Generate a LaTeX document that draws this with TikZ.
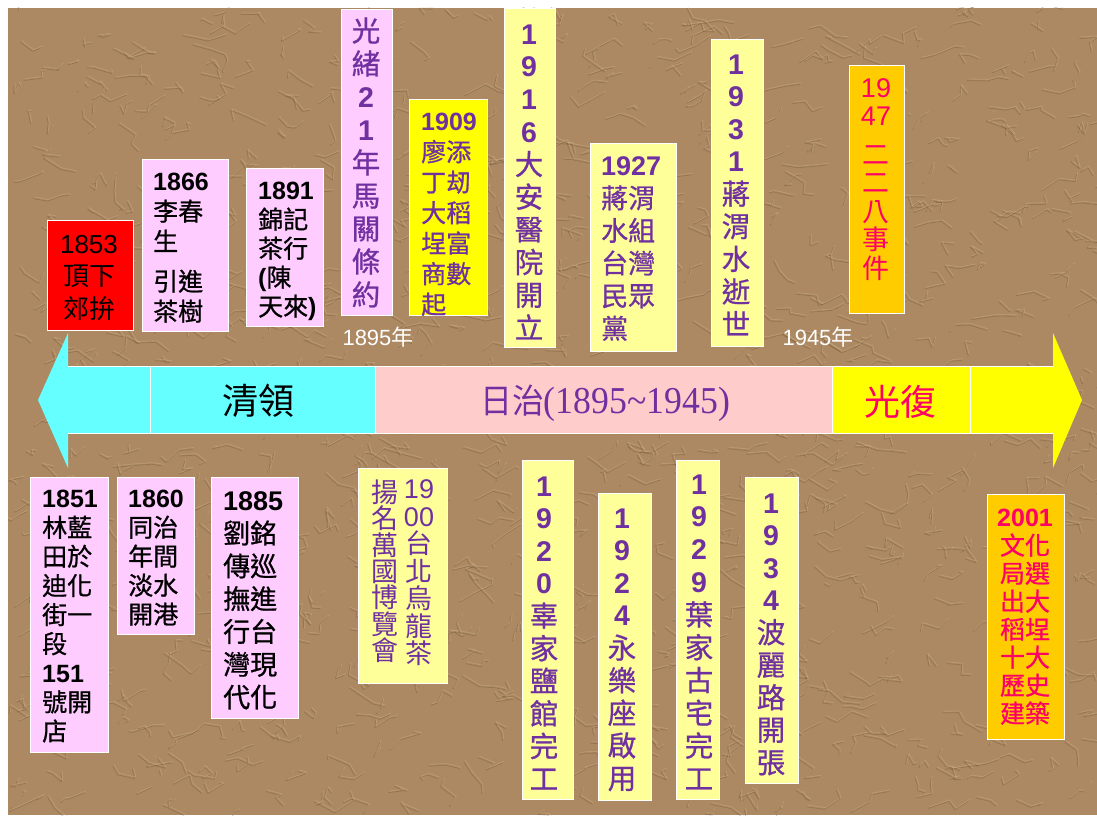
\documentclass[tikz,border=0pt]{standalone}
\usepackage{fontspec}
\setmainfont{Liberation Sans}
\newfontfamily\cjk{Noto Sans CJK TC}[FakeBold=0.8]
\newfontfamily\cjkplain{Noto Sans CJK TC}
\newfontfamily\arialfont{Liberation Sans}
\newfontfamily\seriffont{Liberation Serif}
\newcommand\dg[1]{{\arialfont\bfseries #1}}
\newcommand\dgr[1]{{\arialfont #1}}
\newcommand\firstht{\rule{0pt}{0.9em}}
\definecolor{bgtan}{RGB}{172,137,98}
\definecolor{crinkdark}{RGB}{100,74,48}
\definecolor{crinklight}{RGB}{225,196,155}
\definecolor{cyanband}{HTML}{66FFFF}
\definecolor{pinkband}{HTML}{FFCCCC}
\definecolor{yellowband}{HTML}{FFFF00}
\definecolor{pinkbox}{HTML}{FFCCFF}
\definecolor{lightyellow}{HTML}{FFFF99}
\definecolor{orangebox}{HTML}{FFCC00}
\definecolor{redbox}{HTML}{FF0000}
\definecolor{purpletext}{HTML}{7030A0}
\definecolor{magentatext}{HTML}{FF0066}
\tikzset{
  evbox/.style={draw=white, line width=0.8pt, inner sep=0pt, anchor=north west},
  txtc/.style={inner sep=0pt, anchor=north, align=center},
  txtl/.style={inner sep=0pt, anchor=north west, align=left},
  fs/.style 2 args={font=\cjk\fontsize{#1}{#2}\selectfont},
  bandlabel/.style={inner sep=0pt, anchor=center},
  yearlabel/.style={inner sep=0pt, anchor=center, text=white, font=\arialfont\fontsize{22}{24}\selectfont},
  crinkle/.style={line width=0.8pt, line join=round, line cap=round}
}
\begin{document}
\begin{tikzpicture}[x=1pt,y=-1pt]
\useasboundingbox (0,0) rectangle (1097,818);
\fill[bgtan] (8,8) rectangle (1097,815);
\begin{scope}
\clip (8,8) rectangle (1097,815);
\pgfmathsetseed{11}
\foreach \i in {1,...,1100}{
  \pgfmathsetmacro\xa{8+rnd*1089}
  \pgfmathsetmacro\ya{8+rnd*807}
  \pgfmathsetmacro\dxa{(rnd-0.3)*30}
  \pgfmathsetmacro\dya{(rnd-0.5)*24}
  \pgfmathsetmacro\dxb{(rnd-0.3)*30}
  \pgfmathsetmacro\dyb{(rnd-0.5)*24}
  \pgfmathsetmacro\dxc{(rnd-0.3)*26}
  \pgfmathsetmacro\dyc{(rnd-0.5)*20}
  \draw[crinkle, crinkdark, opacity=0.30] (\xa,\ya) -- ++(\dxa,\dya) -- ++(\dxb,\dyb) -- ++(\dxc,\dyc);
  \draw[crinkle, crinklight, opacity=0.28] (\xa+1.2,\ya-1.6) -- ++(\dxa,\dya) -- ++(\dxb,\dyb) -- ++(\dxc,\dyc);
}
\end{scope}

% ---- timeline band ----
\fill[cyanband] (38,400) -- (68,333) -- (68,366) -- (375,366) -- (375,433) -- (68,433) -- (68,468) -- cycle;
\fill[pinkband] (375,366) rectangle (832,433);
\fill[yellowband] (832,366) -- (1053,366) -- (1053,333) -- (1082,400) -- (1053,468) -- (1053,433) -- (832,433) -- cycle;
\draw[white, line width=0.8pt] (68,366) -- (1053,366) (68,433) -- (1053,433)
  (150,366) -- (150,433) (375,366) -- (375,433) (832,366) -- (832,433) (970,366) -- (970,433);

\node[bandlabel, text=black, font=\cjkplain\fontsize{36}{40}\selectfont] (lqing) at (258,401) {清領};
\node[bandlabel, text=purpletext, font=\seriffont\fontsize{38}{40}\selectfont, xscale=0.94] (lri) at (605,403) {{\cjkplain\fontsize{34}{40}\selectfont 日治}(1895\textasciitilde 1945)};
\node[bandlabel, text=magentatext, font=\cjkplain\fontsize{36}{40}\selectfont] (lguang) at (900,402) {光復};

\node[yearlabel] (y1895) at (378,337) {1895{\cjkplain 年}};
\node[yearlabel] (y1945) at (818,337) {1945{\cjkplain 年}};

% ---- top row ----
\node[evbox, fill=redbox, minimum width=86pt, minimum height=110pt] (b1853) at (47,220) {};
\node[txtc, text=black, font=\cjkplain\fontsize{26}{32.5}\selectfont] (t1853) at (89,229.5) {\firstht\dgr{1853}\\頂下\\郊拚};

\node[evbox, fill=pinkbox, minimum width=86pt, minimum height=172pt] (b1866) at (142,159) {};
\node[txtl, text=black, fs={25}{30}] (t1866) at (153,168) {\firstht\dg{1866}\\李春\\生\\[10pt]引進\\茶樹};

\node[evbox, fill=pinkbox, minimum width=77pt, minimum height=158pt] (b1891) at (246,168) {};
\node[txtl, text=black, fs={25}{29}] (t1891) at (258,177) {\firstht\dg{1891}\\錦記\\茶行\\\dg{(}陳\\天來\dg{)}};

\node[evbox, fill=pinkbox, minimum width=51pt, minimum height=306pt] (b1895) at (341,9) {};
\node[txtc, text=purpletext, fs={28.5}{33}] (t1895) at (366,15.5) {\firstht 光\\緒\\\dg{2}\\\dg{1}\\年\\馬\\關\\條\\約};

\node[evbox, fill=yellowband, minimum width=78pt, minimum height=216pt] (b1909) at (409,99) {};
\node[txtl, text=purpletext, fs={25}{30.5}] (t1909) at (421,108) {\firstht\dg{1909}\\廖添\\丁刼\\大稻\\埕富\\商數\\起};

\node[evbox, fill=lightyellow, minimum width=51pt, minimum height=339pt] (b1916) at (504,8) {};
\node[txtc, text=purpletext, fs={28.5}{32.7}] (t1916) at (529,18.2) {\firstht\dg{1}\\\dg{9}\\\dg{1}\\\dg{6}\\大\\安\\醫\\院\\開\\立};

\node[evbox, fill=lightyellow, minimum width=86pt, minimum height=208pt] (b1927) at (590,143) {};
\node[txtl, text=purpletext, fs={27}{32.6}] (t1927) at (601,151) {\firstht\dg{1927}\\蔣渭\\水組\\台灣\\民眾\\黨};

\node[evbox, fill=lightyellow, minimum width=52pt, minimum height=307pt] (b1931) at (711,39) {};
\node[txtc, text=purpletext, fs={28.5}{32.6}] (t1931) at (736,48.2) {\firstht\dg{1}\\\dg{9}\\\dg{3}\\\dg{1}\\蔣\\渭\\水\\逝\\世};

\node[evbox, fill=orangebox, minimum width=55pt, minimum height=248pt] (b1947) at (849,65) {};
\node[txtc, text=magentatext, font=\cjkplain\fontsize{27}{28.5}\selectfont] (t1947) at (876,73) {\firstht\dgr{19}\\\dgr{47}\\[10pt]二\\二\\八\\事\\件};

% ---- bottom row ----
\node[evbox, fill=pinkbox, minimum width=78pt, minimum height=275pt] (b1851) at (30,477) {};
\node[txtl, text=black, fs={25}{29.1}] (t1851) at (42,485) {\firstht\dg{1851}\\林藍\\田於\\迪化\\街一\\段\\\dg{151}\\號開\\店};

\node[evbox, fill=pinkbox, minimum width=77pt, minimum height=157pt] (b1860) at (117,477) {};
\node[txtl, text=black, fs={25}{29}] (t1860) at (128,485) {\firstht\dg{1860}\\同治\\年間\\淡水\\開港};

\node[evbox, fill=pinkbox, minimum width=87pt, minimum height=241pt] (b1885) at (211,477) {};
\node[txtl, text=black, fs={27}{32.8}] (t1885) at (223,486) {\firstht\dg{1885}\\劉銘\\傳巡\\撫進\\行台\\灣現\\代化};

\node[evbox, fill=lightyellow, minimum width=89pt, minimum height=215pt] (b1900) at (358,468) {};
\node[txtc, text=purpletext, font=\cjkplain\fontsize{27}{27.5}\selectfont] (t1900a) at (419,474) {\firstht\dgr{19}\\\dgr{00}\\台\\北\\烏\\龍\\茶};
\node[txtc, text=purpletext, font=\cjkplain\fontsize{27}{26.3}\selectfont] (t1900b) at (385,478) {\firstht 揚\\名\\萬\\國\\博\\覽\\會};

\node[evbox, fill=lightyellow, minimum width=51pt, minimum height=339pt] (b1920) at (522,460) {};
\node[txtc, text=purpletext, fs={28.5}{32.6}] (t1920) at (544,470.2) {\firstht\dg{1}\\\dg{9}\\\dg{2}\\\dg{0}\\辜\\家\\鹽\\館\\完\\工};

\node[evbox, fill=lightyellow, minimum width=53pt, minimum height=307pt] (b1924) at (598,493) {};
\node[txtc, text=purpletext, fs={28.5}{32.6}] (t1924) at (622,502.2) {\firstht\dg{1}\\\dg{9}\\\dg{2}\\\dg{4}\\永\\樂\\座\\啟\\用};

\node[evbox, fill=lightyellow, minimum width=43pt, minimum height=339pt] (b1929) at (676,460) {};
\node[txtc, text=purpletext, fs={28.5}{32.8}] (t1929) at (699,468.2) {\firstht\dg{1}\\\dg{9}\\\dg{2}\\\dg{9}\\葉\\家\\古\\宅\\完\\工};

\node[evbox, fill=lightyellow, minimum width=53pt, minimum height=306pt] (b1934) at (745,477) {};
\node[txtc, text=purpletext, fs={28.5}{32.5}] (t1934) at (771,487.2) {\firstht\dg{1}\\\dg{9}\\\dg{3}\\\dg{4}\\波\\麗\\路\\開\\張};

\node[evbox, fill=orangebox, minimum width=77pt, minimum height=245pt] (b2001) at (987,494) {};
\node[txtc, text=magentatext, fs={25}{28}] (t2001) at (1025,504) {\firstht\dg{2001}\\文化\\局選\\出大\\稻埕\\十大\\歷史\\建築};
\end{tikzpicture}
\end{document}
